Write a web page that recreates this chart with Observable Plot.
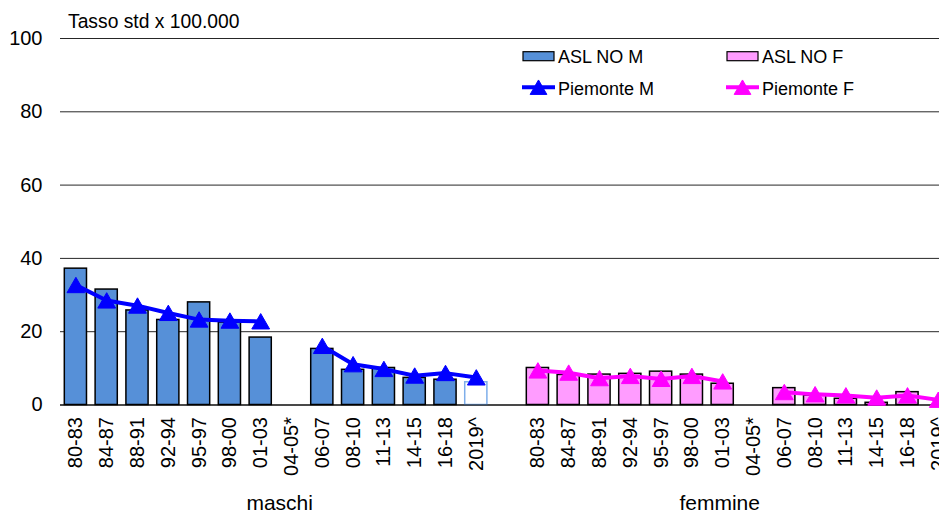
<!DOCTYPE html>
<html><head><meta charset="utf-8">
<script src="https://cdn.jsdelivr.net/npm/d3@7"></script>
<script src="https://cdn.jsdelivr.net/npm/@observablehq/plot@0.6"></script>
<style>
body{margin:0;background:#fff;font-family:"Liberation Sans",Arial,sans-serif;}
#wrap{position:relative;width:939px;height:516px;overflow:hidden;}
#overlay{position:absolute;left:0;top:0;pointer-events:none;}
</style></head><body>
<div id="wrap"><div id="chart"></div>
<svg id="overlay" width="939" height="516" font-family="Liberation Sans, Arial, sans-serif"></svg>
</div>
<script>
const title = "Tasso std x 100.000";
const periods = ["80-83","84-87","88-91","92-94","95-97","98-00","01-03","04-05*","06-07","08-10","11-13","14-15","16-18","2019^"];
const groupLabels = ["maschi","femmine"];
const seriesNames = ["ASL NO M","ASL NO F","Piemonte M","Piemonte F"];
const aslM = [37.2,31.5,25.8,23.2,28.0,22.5,18.4,null,15.3,9.6,10.1,7.4,6.9,6.2];
const pieM = [32.7,28.5,27.1,25.1,23.3,23.0,22.8,null,16.1,11.1,9.8,8.0,8.7,7.5];
const aslF = [10.1,8.2,8.3,8.5,9.1,8.3,5.8,null,4.6,2.6,1.7,0.6,3.5,null];
const pieF = [9.4,8.8,7.3,7.9,7.1,7.9,6.4,null,3.5,2.9,2.6,2.0,2.6,1.4];
const yTicks = [0,20,40,60,80,100];

const colM = "#5690D8", colF = "#FF9CFF", lineM = "#0000FF", lineF = "#FF00FF", openStroke = "#7EAEEA";
const key = (g,p) => g + "|" + p;
const domain = [...periods.map(p => key("M",p)), "gap", ...periods.map(p => key("F",p))];
const num = v => v == null ? NaN : v;
const rowsM = periods.map((p,i) => ({x:key("M",p), asl:num(aslM[i]), pie:num(pieM[i]), open:p==="2019^"}));
const rowsF = periods.map((p,i) => ({x:key("F",p), asl:num(aslF[i]), pie:num(pieF[i]), open:false}));

const chart = Plot.plot({
  width: 939, height: 516,
  marginLeft: 60, marginRight: 0, marginTop: 38, marginBottom: 111.5,
  style: {fontFamily: "Liberation Sans, Arial, sans-serif", fontSize: "20px", color: "#000", background: "#fff", overflow: "hidden"},
  x: {type: "band", domain, range: [60, 953.2], paddingInner: 0.28, paddingOuter: 0.14, align: 0.5, round: false, label: null},
  y: {domain: [0, 100], label: null},
  marks: [
    Plot.gridY(yTicks, {stroke: "#000", strokeOpacity: 0.85, strokeWidth: 1}),
    Plot.axisY({ticks: yTicks, tickSize: 0, tickPadding: 18, fontSize: 20, fill: "#000", label: null}),
    Plot.barY(rowsM.filter(d => !isNaN(d.asl) && !d.open), {x: "x", y: "asl", fill: colM, stroke: "#000", strokeWidth: 1.5}),
    Plot.barY(rowsM.filter(d => d.open), {x: "x", y: "asl", fill: "#fff", stroke: openStroke, strokeWidth: 1.5}),
    Plot.barY(rowsF.filter(d => !isNaN(d.asl)), {x: "x", y: "asl", fill: colF, stroke: "#000", strokeWidth: 1.5}),
    Plot.ruleY([0], {stroke: "#000", strokeWidth: 1.2}),
    Plot.line(rowsM, {x: "x", y: "pie", stroke: lineM, strokeWidth: 4}),
    Plot.line(rowsF, {x: "x", y: "pie", stroke: lineF, strokeWidth: 4}),
    Plot.dot(rowsM.filter(d => !isNaN(d.pie)), {x: "x", y: "pie", symbol: "triangle", r: 6.6, fill: lineM, stroke: lineM, strokeWidth: 1, dy: 2.4}),
    Plot.dot(rowsF.filter(d => !isNaN(d.pie)), {x: "x", y: "pie", symbol: "triangle", r: 6.6, fill: lineF, stroke: lineF, strokeWidth: 1, dy: 2.4}),
    Plot.axisX({tickRotate: -90, tickSize: 0, tickPadding: 12, fontSize: 20, fill: "#000", label: null, tickFormat: d => d === "gap" ? "" : d.split("|")[1]}),
    Plot.text([groupLabels[0]], {x: () => key("M","01-03"), text: d => d, dx: 19, frameAnchor: "bottom", dy: 98.5, fontSize: 21, fill: "#000", textAnchor: "middle", lineAnchor: "middle"}),
    Plot.text([groupLabels[1]], {x: () => key("F","01-03"), text: d => d, dx: -3, frameAnchor: "bottom", dy: 98.5, fontSize: 21, fill: "#000", textAnchor: "middle", lineAnchor: "middle"})
  ]
});
document.getElementById("chart").append(chart);

// overlay: title and legend
const ov = d3.select("#overlay");
ov.append("text").attr("x", 68).attr("y", 28).attr("font-size", 19.3).text(title);
const leg = [
  {name: seriesNames[0], type: "bar", fill: colM, x: 523, y: 63.3},
  {name: seriesNames[1], type: "bar", fill: colF, x: 727, y: 63.3},
  {name: seriesNames[2], type: "line", fill: lineM, x: 523, y: 95},
  {name: seriesNames[3], type: "line", fill: lineF, x: 727, y: 95}
];
leg.forEach(l => {
  if (l.type === "bar") {
    ov.append("rect").attr("x", l.x).attr("y", l.y - 11.6).attr("width", 31).attr("height", 9).attr("fill", l.fill).attr("stroke", "#000").attr("stroke-width", 1.2);
  } else {
    ov.append("line").attr("x1", l.x - 1).attr("x2", l.x + 32).attr("y1", l.y - 7.7).attr("y2", l.y - 7.7).attr("stroke", l.fill).attr("stroke-width", 4);
    ov.append("path").attr("d", d3.symbol(d3.symbolTriangle, Math.PI * 6.2 * 6.2)()).attr("transform", `translate(${l.x + 15.5},${l.y - 7.7 + 2.3})`).attr("fill", l.fill).attr("stroke", l.fill);
  }
  ov.append("text").attr("x", l.x + 35).attr("y", l.y).attr("font-size", 18).text(l.name);
});
</script>
</body></html>
